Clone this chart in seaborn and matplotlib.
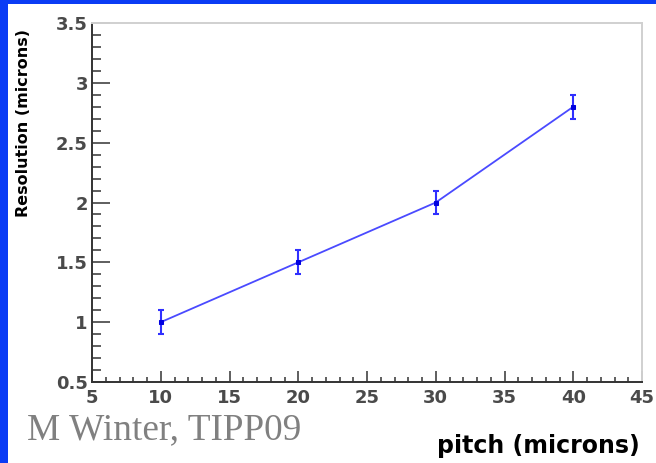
import matplotlib
matplotlib.use("Agg")
import matplotlib.pyplot as plt
import matplotlib.patches as mpatches
from matplotlib.ticker import MultipleLocator, FuncFormatter
import numpy as np
import pandas as pd
import seaborn as sns

# Measured spatial resolution versus pixel pitch
pitch = [10, 20, 30, 40]
resolution = [1.0, 1.5, 2.0, 2.8]
resolution_err = [0.1, 0.1, 0.1, 0.1]

x_ticks = [5, 10, 15, 20, 25, 30, 35, 40, 45]
y_ticks = [0.5, 1, 1.5, 2, 2.5, 3, 3.5]

sns.set_style("ticks")
plt.rcParams["font.family"] = ["DejaVu Sans"]

df = pd.DataFrame({"pitch": pitch, "resolution": resolution})

fig = plt.figure(figsize=(6.56, 4.63), dpi=100)
fig.patch.set_facecolor("#0a3cf5")
# white slide panel
fig.patches.append(mpatches.Rectangle((8 / 656, 0), 1 - 8 / 656, (463 - 4) / 463,
                                      transform=fig.transFigure, facecolor="white",
                                      edgecolor="none", zorder=-10))

ax = fig.add_axes([92 / 656, 81 / 463, 550 / 656, 359 / 463])
ax.set_zorder(5)
ax.set_facecolor("white")

line_color = "#4a4aff"
sns.lineplot(data=df, x="pitch", y="resolution", ax=ax, color=line_color,
             linewidth=1.3, marker="s", markersize=3.5,
             markerfacecolor="#0000e0", markeredgecolor="#0000e0", zorder=3)
ax.errorbar(pitch, resolution, yerr=resolution_err, fmt="none", ecolor="#3030ff",
            elinewidth=1.5, capsize=2.5, capthick=1.5, zorder=2)

ax.set_xlim(5, 45)
ax.set_ylim(0.5, 3.5)
ax.set_xticks(x_ticks)
ax.set_yticks(y_ticks)
ax.xaxis.set_minor_locator(MultipleLocator(1))
ax.yaxis.set_minor_locator(MultipleLocator(0.1))
fmt = FuncFormatter(lambda v, p: f"{v:g}")
ax.xaxis.set_major_formatter(fmt)
ax.yaxis.set_major_formatter(fmt)

tick_color = "#333333"
ax.tick_params(axis="x", which="major", direction="in", length=8, width=1.1,
               color=tick_color, pad=5, labelsize=13, labelcolor="#4a4a4a")
ax.tick_params(axis="x", which="minor", direction="in", length=3.6, width=1.1,
               color=tick_color)
ax.tick_params(axis="y", which="major", direction="in", length=13, width=1.1,
               color=tick_color, pad=3, labelsize=13, labelcolor="#4a4a4a")
ax.tick_params(axis="y", which="minor", direction="in", length=6.5, width=1.1,
               color=tick_color)
for lbl in ax.get_xticklabels() + ax.get_yticklabels():
    lbl.set_fontweight("bold")

for side in ("left", "bottom"):
    ax.spines[side].set_color(tick_color)
    ax.spines[side].set_linewidth(1.4)
for side in ("top", "right"):
    ax.spines[side].set_visible(True)
    ax.spines[side].set_color("#d0d0d0")
    ax.spines[side].set_linewidth(1.4)

ax.set_xlabel("")
ax.set_ylabel("")
fig.text(24 / 656, 1 - 123 / 463, "Resolution (microns)", rotation=90,
         ha="center", va="center", fontsize=11.5, fontweight="bold", color="black")
fig.text(640 / 656, 1 - 446 / 463, "pitch (microns)", ha="right", va="center",
         fontsize=17, fontweight="bold", color="black")
fig.text(27 / 656, 1 - 430 / 463, "M Winter, TIPP09", ha="left", va="center",
         fontsize=26.8, family=["Liberation Serif"], color="#808080")

fig.savefig("out.png", dpi=100, facecolor=fig.get_facecolor())
